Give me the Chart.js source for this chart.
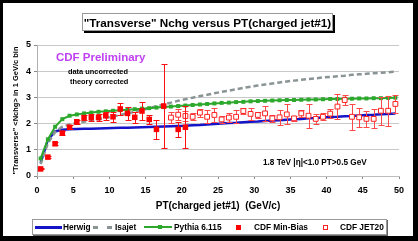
<!DOCTYPE html>
<html>
<head>
<meta charset="utf-8">
<script src="https://cdn.jsdelivr.net/npm/chart.js@4.4.0/dist/chart.umd.min.js"></script>
<style>
  html, body { margin: 0; padding: 0; }
  body { width: 418px; height: 241px; background: #000; position: relative; overflow: hidden;
         font-family: "Liberation Sans", Arial, sans-serif; font-weight: bold; }
  #paper { position: absolute; left: 3px; top: 3px; width: 410px; height: 233px; background: #fff; }
  #chart { position: absolute; left: 0; top: 0; }
  .txt { position: absolute; white-space: pre; line-height: 1; color: #000; }
  #title { position: absolute; left: 82px; top: 13px; width: 249px; height: 16px; border: 1px solid #999;
           box-shadow: 2px 2px 0 #000; background: #fff; font-size: 11.7px; line-height: 17px; text-align: center; }
  #legend { position: absolute; left: 32px; top: 219px; width: 353px; height: 14px; border: 1px solid #999;
            box-shadow: 1px 1px 0 #666; background: #fff; }
  .mark { position: absolute; }
</style>
</head>
<body>
<div id="paper"></div>
<canvas id="chart" width="418" height="241"></canvas>

<div id="title">"Transverse" Nchg versus PT(charged jet#1)</div>

<div class="txt" style="left:56px; top:52px; font-size:11.5px; color:#bf40f2;">CDF Preliminary</div>
<div class="txt" style="left:68px; top:68px; font-size:7.4px;">data uncorrected</div>
<div class="txt" style="left:70px; top:78px; font-size:7.4px;">theory corrected</div>
<div class="txt" style="left:263px; top:158.6px; font-size:8.2px;">1.8 TeV |η|&lt;1.0 PT&gt;0.5 GeV</div>

<div id="legend"></div>
<div class="mark" style="left:35px; top:226px; width:27px; height:2.5px; background:#1414c8;"></div>
<div class="txt" style="left:63px; top:223px; font-size:8.3px;">Herwig</div>
<div class="mark" style="left:93px; top:226px; width:5px; height:2.5px; background:#8a9494;"></div>
<div class="mark" style="left:107px; top:226px; width:5px; height:2.5px; background:#8a9494;"></div>
<div class="txt" style="left:115px; top:223px; font-size:8.3px;">Isajet</div>
<div class="mark" style="left:144px; top:226px; width:28px; height:2px; background:#2ca82c;"></div>
<div class="mark" style="left:158px; top:225px; width:4px; height:4px; background:#2ca82c;"></div>
<div class="txt" style="left:174px; top:223px; font-size:8.3px;">Pythia 6.115</div>
<div class="mark" style="left:236px; top:224.5px; width:5px; height:5px; background:#ff0000;"></div>
<div class="txt" style="left:254px; top:223px; font-size:8.3px;">CDF Min-Bias</div>
<div class="mark" style="left:323px; top:224.5px; width:3px; height:3px; border:1px solid #ff2020; background:#fff;"></div>
<div class="txt" style="left:340px; top:223px; font-size:8.3px;">CDF JET20</div>

<script>
// theory curves, one value per 1 GeV/c bin
const theoryPt = [0.5, 1.5, 2.5, 3.5, 4.5, 5.5, 6.5, 7.5, 8.5, 9.5,
  10.5, 11.5, 12.5, 13.5, 14.5, 15.5, 16.5, 17.5, 18.5, 19.5,
  20.5, 21.5, 22.5, 23.5, 24.5, 25.5, 26.5, 27.5, 28.5, 29.5,
  30.5, 31.5, 32.5, 33.5, 34.5, 35.5, 36.5, 37.5, 38.5, 39.5,
  40.5, 41.5, 42.5, 43.5, 44.5, 45.5, 46.5, 47.5, 48.5, 49.5];

const herwig = [0.50, 1.38, 1.70, 1.77, 1.78, 1.79, 1.80, 1.80, 1.81, 1.82,
  1.83, 1.84, 1.84, 1.85, 1.86, 1.87, 1.88, 1.89, 1.90, 1.91,
  1.92, 1.94, 1.95, 1.97, 1.98, 2.00, 2.02, 2.03, 2.05, 2.07,
  2.08, 2.10, 2.12, 2.13, 2.15, 2.17, 2.18, 2.20, 2.21, 2.23,
  2.25, 2.26, 2.28, 2.29, 2.31, 2.33, 2.34, 2.36, 2.37, 2.39];

const isajet = [0.45, 1.25, 1.68, 1.88, 1.97, 2.02, 2.07, 2.12, 2.17, 2.22,
  2.27, 2.33, 2.39, 2.45, 2.52, 2.59, 2.66, 2.73, 2.80, 2.87,
  2.93, 2.99, 3.05, 3.10, 3.16, 3.21, 3.26, 3.31, 3.36, 3.41,
  3.45, 3.49, 3.53, 3.57, 3.61, 3.64, 3.67, 3.70, 3.73, 3.76,
  3.78, 3.81, 3.83, 3.86, 3.88, 3.90, 3.92, 3.94, 3.96, 3.98];

const pythia = [0.67, 1.40, 1.88, 2.17, 2.30, 2.35, 2.39, 2.42, 2.45, 2.47,
  2.49, 2.51, 2.53, 2.55, 2.57, 2.59, 2.61, 2.63, 2.65, 2.67,
  2.69, 2.71, 2.73, 2.75, 2.77, 2.79, 2.80, 2.82, 2.83, 2.85,
  2.86, 2.87, 2.88, 2.89, 2.90, 2.90, 2.91, 2.92, 2.92, 2.93,
  2.94, 2.94, 2.95, 2.95, 2.96, 2.96, 2.97, 2.97, 2.98, 2.99];

// CDF data
const minBiasPt = [0.5, 1.5, 2.5, 3.5, 4.5, 5.5, 6.5, 7.5, 8.5, 9.5,
  10.5, 11.5, 12.5, 13.5, 14.5, 15.5, 16.5, 17.5, 19.5, 20.5];
const minBias = [0.27, 0.72, 1.23, 1.64, 1.86, 2.07, 2.23, 2.23, 2.23, 2.30,
  2.26, 2.56, 2.39, 2.24, 2.48, 2.16, 1.78, 2.67, 1.78, 1.86];
const minBiasErr = [0.02, 0.04, 0.05, 0.06, 0.07, 0.08, 0.10, 0.12, 0.13, 0.15,
  0.20, 0.24, 0.24, 0.20, 0.36, 0.16, 0.36, 1.60, 0.30, 0.80];

const jet20Pt = [18.5, 19.5, 20.5, 21.5, 22.5, 23.5, 24.5, 25.5, 26.5, 27.5,
  28.5, 29.5, 30.5, 31.5, 32.5, 33.5, 34.5, 35.5, 36.5, 37.5,
  38.5, 39.5, 40.5, 41.5, 42.5, 43.5, 44.5, 45.5, 46.5, 47.5, 48.5, 49.5];
const jet20 = [2.23, 2.34, 2.29, 2.26, 2.42, 2.26, 2.33, 2.16, 2.23, 2.26,
  2.48, 2.37, 2.33, 2.39, 2.20, 2.24, 2.35, 2.20, 2.39, 2.30,
  2.18, 2.26, 2.38, 2.65, 2.90, 2.26, 2.24, 2.18, 2.18, 2.49, 2.49, 2.75];
const jet20Err = [0.20, 0.20, 0.19, 0.13, 0.15, 0.25, 0.25, 0.14, 0.16, 0.25,
  0.10, 0.24, 0.13, 0.28, 0.12, 0.28, 0.38, 0.10, 0.14, 0.46,
  0.20, 0.14, 0.17, 0.49, 0.20, 0.50, 0.36, 0.30, 0.36, 0.54, 0.58, 0.34];

const xTicks = [0, 5, 10, 15, 20, 25, 30, 35, 40, 45, 50];
const yTicks = [0, 1, 2, 3, 4, 5];

const pts = (xs, ys) => xs.map((x, i) => ({ x: x, y: ys[i] }));
const FONT = '"Liberation Sans", Arial, sans-serif';

// vertical error bars with caps, drawn just under each data set's markers
const errorBars = {
  id: 'errorBars',
  beforeDatasetDraw(chart, args) {
    const ds = chart.data.datasets[args.index];
    if (!ds.errors) return;
    const { ctx, scales: { x, y } } = chart;
    ctx.save();
    ctx.strokeStyle = ds.errorColor;
    ctx.lineWidth = 1;
    ds.data.forEach((p, i) => {
      const e = ds.errors[i];
      const px = Math.round(x.getPixelForValue(p.x)) + 0.5;
      const top = Math.round(y.getPixelForValue(p.y + e)) + 0.5;
      const bot = Math.round(y.getPixelForValue(p.y - e)) + 0.5;
      ctx.beginPath();
      ctx.moveTo(px, top); ctx.lineTo(px, bot);
      ctx.moveTo(px - 3, top); ctx.lineTo(px + 3, top);
      ctx.moveTo(px - 3, bot); ctx.lineTo(px + 3, bot);
      ctx.stroke();
    });
    ctx.restore();
  }
};

new Chart(document.querySelector('#chart'), {
  type: 'line',
  data: {
    datasets: [
      {
        label: 'CDF Min-Bias',
        data: pts(minBiasPt, minBias),
        errors: minBiasErr,
        errorColor: '#ff1010',
        showLine: false,
        pointStyle: 'rect',
        pointRadius: 3.9,
        pointBackgroundColor: '#ff0000',
        pointBorderWidth: 0
      },
      {
        label: 'CDF JET20',
        data: pts(jet20Pt, jet20),
        errors: jet20Err,
        errorColor: '#ff4848',
        showLine: false,
        pointStyle: 'rect',
        pointRadius: 3.4,
        pointBackgroundColor: '#ffffff',
        pointBorderColor: '#ff2020',
        pointBorderWidth: 1
      },
      {
        label: 'Pythia 6.115',
        data: pts(theoryPt, pythia),
        borderColor: '#2ca82c',
        borderWidth: 2,
        pointStyle: 'rect',
        pointRadius: 2.8,
        pointBackgroundColor: '#2ca82c',
        pointBorderWidth: 0
      },
      {
        label: 'Isajet',
        data: pts(theoryPt, isajet),
        borderColor: '#8a9494',
        borderWidth: 2.5,
        borderDash: [5, 3],
        pointRadius: 0
      },
      {
        label: 'Herwig',
        data: pts(theoryPt, herwig),
        borderColor: '#1414c8',
        borderWidth: 2.5,
        pointRadius: 0
      }
    ]
  },
  options: {
    responsive: false,
    animation: false,
    layout: { padding: { left: 0, top: 45, right: 19, bottom: 29 } },
    plugins: {
      legend: { display: false },
      tooltip: { enabled: false }
    },
    scales: {
      x: {
        type: 'linear',
        min: 0,
        max: 50,
        afterFit: s => { s.height = 36; },
        afterBuildTicks: s => { s.ticks = xTicks.map(v => ({ value: v })); },
        grid: { drawOnChartArea: false, tickLength: 3, color: '#888' },
        border: { color: '#bdbdbd' },
        ticks: { color: '#000', padding: 6, maxRotation: 0,
                 font: { family: FONT, size: 9, weight: 'bold' } },
        title: { display: true, text: 'PT(charged jet#1)  (GeV/c)', color: '#000', padding: 0,
                 font: { family: FONT, size: 10, weight: 'bold' } }
      },
      y: {
        min: 0,
        max: 5,
        afterFit: s => { s.width = 37; },
        afterBuildTicks: s => { s.ticks = yTicks.map(v => ({ value: v })); },
        grid: { color: '#c8c8c8', tickLength: 3, tickColor: '#888' },
        border: { color: '#b0b0b0' },
        ticks: { color: '#000', padding: 3,
                 font: { family: FONT, size: 9, weight: 'bold' } },
        title: { display: true, text: '"Transverse" <Nchg> in 1 GeV/c bin', color: '#000',
                 padding: { top: 11.5, bottom: 0 },
                 font: { family: FONT, size: 7.5, weight: 'bold' } }
      }
    }
  },
  plugins: [errorBars]
});
</script>
</body>
</html>
